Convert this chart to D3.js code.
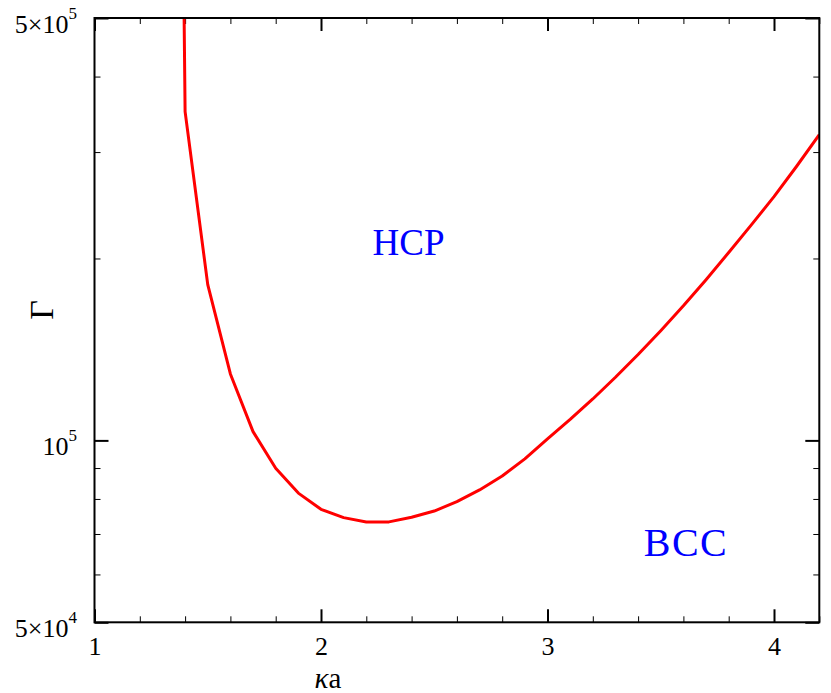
<!DOCTYPE html>
<html><head><meta charset="utf-8">
<script src="https://cdn.jsdelivr.net/npm/d3@7/dist/d3.min.js"></script>
<style>
html,body{margin:0;padding:0;background:#fff;}
svg{display:block;}
text{font-family:"Liberation Serif","Times New Roman",serif;fill:#000;}
</style></head>
<body>
<svg id="chart" width="831" height="693"></svg>
<script>
// ---- data ----
const kappaA = [1.39,1.4,1.5,1.6,1.7,1.8,1.9,2.0,2.1,2.2,2.3,2.4,2.5,2.6,2.7,2.8,2.9,3.0,3.1,3.2,3.3,3.4,3.5,3.6,3.7,3.8,3.9,4.0,4.1,4.2];
const gamma  = [8.0e5,3.5e5,1.81e5,1.288e5,1.034e5,8.99e4,8.18e4,7.69e4,7.45e4,7.33e4,7.33e4,7.46e4,7.64e4,7.92e4,8.28e4,8.73e4,9.32e4,1.006e5,1.083e5,1.171e5,1.272e5,1.387e5,1.519e5,1.670e5,1.845e5,2.046e5,2.273e5,2.531e5,2.842e5,3.206e5];
const xMajorTicks = [1,2,3,4];
const xMinorTicks = [1.2,1.4,1.6,1.8,2.2,2.4,2.6,2.8,3.2,3.4,3.6,3.8,4.2];
const yMajorTicks = [5e4,1e5,5e5];
const yMajorLabels = [["5×10","4"],["10","5"],["5×10","5"]];
const yMinorTicks = [6e4,7e4,8e4,9e4,2e5,3e5,4e5];
const regionLabels = ["HCP","BCC"];
const xTitle = ["κ","a"];
const yTitle = "Γ";

// ---- layout ----
const L = 94.5, R = 819.3, T = 18, B = 622.3;
const svg = d3.select("#chart");
const x = d3.scaleLinear().domain([1,4.2]).range([L,R]);
const y = d3.scaleLog().domain([5e4,5e5]).range([B,T]);

svg.append("clipPath").attr("id","clip").append("rect")
  .attr("x",L).attr("y",T).attr("width",R-L).attr("height",B-T);

function styleAxis(g, w){
  g.select(".domain").remove();
  g.selectAll(".tick line").attr("stroke","#000").attr("stroke-width",w);
}

// minor ticks (all four sides)
svg.append("g").attr("transform",`translate(0,${B})`)
  .call(d3.axisBottom(x).tickValues(xMinorTicks).tickSize(-6).tickFormat(""))
  .call(g=>styleAxis(g,1));
svg.append("g").attr("transform",`translate(0,${T})`)
  .call(d3.axisTop(x).tickValues(xMinorTicks).tickSize(-6).tickFormat(""))
  .call(g=>styleAxis(g,1));
svg.append("g").attr("transform",`translate(${L},0)`)
  .call(d3.axisLeft(y).tickValues(yMinorTicks).tickSize(-6).tickFormat(""))
  .call(g=>styleAxis(g,1));
svg.append("g").attr("transform",`translate(${R},0)`)
  .call(d3.axisRight(y).tickValues(yMinorTicks).tickSize(-6).tickFormat(""))
  .call(g=>styleAxis(g,1));

// major ticks
const xb = svg.append("g").attr("transform",`translate(0,${B})`)
  .call(d3.axisBottom(x).tickValues(xMajorTicks).tickSize(-13).tickPadding(0).tickFormat(d3.format("d")))
  .call(g=>styleAxis(g,2));
xb.selectAll(".tick text").attr("y",33).attr("dy",0)
  .style("font-size","26px").style("font-family","'Liberation Serif',serif").style("fill","#000");
svg.append("g").attr("transform",`translate(0,${T})`)
  .call(d3.axisTop(x).tickValues(xMajorTicks).tickSize(-13).tickFormat(""))
  .call(g=>styleAxis(g,2));
svg.append("g").attr("transform",`translate(${R},0)`)
  .call(d3.axisRight(y).tickValues(yMajorTicks).tickSize(-14).tickFormat(""))
  .call(g=>styleAxis(g,2));
const yl = svg.append("g").attr("transform",`translate(${L},0)`)
  .call(d3.axisLeft(y).tickValues(yMajorTicks).tickSize(-14).tickFormat(""))
  .call(g=>styleAxis(g,2));
yl.selectAll(".tick text").remove();
yl.selectAll(".tick").each(function(d,i){
  const t = d3.select(this).append("text")
    .attr("x",-17.5).attr("y",14).attr("text-anchor","end")
    .style("font-size","26px").style("fill","#000");
  t.append("tspan").text(yMajorLabels[i][0]);
  t.append("tspan").style("font-size","17px").attr("dy",-14).text(yMajorLabels[i][1]);
});

// curve
svg.append("path")
  .datum(kappaA.map((k,i)=>[k,gamma[i]]))
  .attr("clip-path","url(#clip)")
  .attr("fill","none").attr("stroke","#ff0000").attr("stroke-width",3)
  .attr("stroke-linejoin","round")
  .attr("d", d3.line().x(d=>x(d[0])).y(d=>y(d[1])));

// frame
svg.append("rect").attr("x",L).attr("y",T).attr("width",R-L).attr("height",B-T)
  .attr("fill","none").attr("stroke","#000").attr("stroke-width",2);

// region labels
svg.append("text").attr("x",408.5).attr("y",255).attr("text-anchor","middle")
  .style("font-size","37px").style("fill","#0000ff").text(regionLabels[0]);
svg.append("text").attr("x",686).attr("y",556).attr("text-anchor","middle")
  .style("font-size","40px").attr("letter-spacing",1.5).style("fill","#0000ff").text(regionLabels[1]);

// axis titles
const xt = svg.append("text").attr("x",328).attr("y",687.5).attr("text-anchor","middle").style("font-size","29px");
xt.append("tspan").attr("font-style","italic").text(xTitle[0]);
xt.append("tspan").text(xTitle[1]);
svg.append("text").attr("transform","translate(52.5,310) rotate(-90)")
  .attr("text-anchor","middle").style("font-size","34px").text(yTitle);
</script>
</body></html>
